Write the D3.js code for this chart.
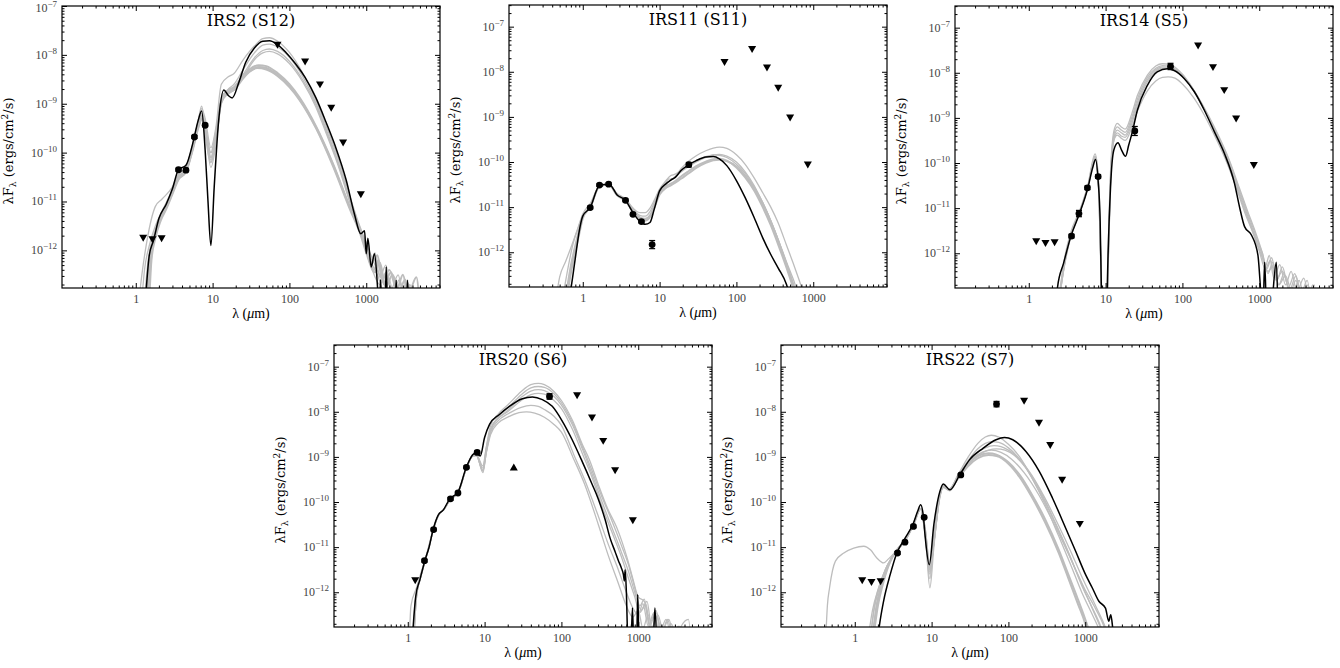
<!DOCTYPE html>
<meta charset="utf-8">
<style>
body { margin: 0; background: #fff; }
svg { font-family: 'DejaVu Serif', serif; }
.frame { fill: none; stroke: #000; stroke-width: 1.2px; }
.tick line { stroke: #000; stroke-width: 1px; }
.tick text { fill: #444; font-family: 'Liberation Serif', serif; font-size: 12px; }
.ylab { fill: #444; font-family: 'Liberation Serif', serif; font-size: 12px; }
.gray { fill: none; stroke: #bdbdbd; stroke-width: 1.3px; }
.gray.thick { stroke-width: 2px; }
.model { fill: none; stroke: #000; stroke-width: 1.5px; }
.title { font-size: 16px; fill: #000; }
.axlabel { font-family: 'Liberation Serif', serif; font-size: 14px; fill: #000; }
.aylabel { font-size: 13px; fill: #000; }
</style>
<svg id="chart" width="1340" height="668"></svg>
<script src="https://d3js.org/d3.v7.min.js"></script>
<script>
// all curves are [wavelength in micron, log10 of lambda F_lambda in erg/cm^2/s]

// ---- IRS2 (S12)
const irs2Model = [[1.3,-13.3],[1.5,-12.1],[1.7,-11.8],[2,-11.35],[2.5,-11.05],[3,-10.74],[3.6,-10.35],[4.5,-10.26],[5.5,-9.82],[6.5,-9.34],[7.2,-9.15],[8,-9.95],[8.7,-10.98],[9.5,-11.9],[10.5,-10.7],[12,-9.34],[14,-8.72],[16,-8.83],[18,-8.88],[22,-8.56],[27,-8.15],[35,-7.86],[45,-7.72],[55,-7.71],[70,-7.79],[90,-7.95],[120,-8.18],[160,-8.46],[220,-8.87],[300,-9.38],[400,-9.89],[550,-10.57],[700,-11.25],[850,-11.66],[950,-11.6],[1000,-12.07],[1050,-11.75],[1160,-12.34],[1280,-12.07],[1416,-12.85],[1480,-13.3],[1535,-12.6],[1600,-13.3],[1750,-13.3],[1820,-12.34],[1900,-13.3],[2350,-13.3],[2455,-12.61],[2560,-13.3],[3300,-13.3],[3444,-12.61],[3600,-13.3]];
const irs2Grays = [
  [[1.2,-13],[1.3,-12.4],[1.5,-11.9],[1.8,-11.5],[2.2,-11.2],[3,-10.75],[3.6,-10.45],[4.5,-10.3],[5.5,-9.85],[6.5,-9.35],[7.2,-9.1],[8,-9.3],[9.5,-9.9],[11,-9.5],[13,-8.6],[16,-8.45],[19,-8.38],[25,-8.1],[35,-7.82],[45,-7.67],[55,-7.65],[70,-7.72],[100,-7.95],[150,-8.38],[220,-8.92],[300,-9.45],[450,-10.2],[600,-10.85],[800,-11.45],[1000,-11.85],[1300,-12.3],[1600,-12.6],[2000,-12.9],[2500,-13.2]],
  [[1.3,-13],[1.45,-12.2],[1.7,-11.7],[2,-11.4],[2.5,-11.05],[3,-10.8],[3.6,-10.5],[4.5,-10.35],[5.5,-9.9],[6.5,-9.4],[7.2,-9.2],[8,-9.45],[9.5,-10.1],[11,-9.7],[13,-8.9],[16,-8.7],[19,-8.6],[25,-8.3],[35,-7.96],[45,-7.8],[55,-7.78],[70,-7.84],[100,-8.05],[150,-8.45],[220,-8.98],[300,-9.52],[450,-10.28],[600,-10.92],[800,-11.5],[1000,-11.95],[1200,-12.3],[1400,-12.5],[1700,-12.85],[2000,-12.6],[2300,-13.2]],
  [[1.1,-13],[1.2,-12.5],[1.4,-11.8],[1.8,-11.1],[2.2,-10.95],[3,-10.7],[3.6,-10.45],[4.5,-10.3],[5.5,-9.85],[6.5,-9.35],[7.2,-9.05],[8,-9.5],[9.5,-10.3],[11,-9.85],[13,-9.0],[16,-8.78],[19,-8.68],[25,-8.4],[35,-8.06],[45,-7.91],[55,-7.88],[70,-7.93],[100,-8.13],[150,-8.52],[220,-9.02],[300,-9.56],[450,-10.32],[600,-10.95],[800,-11.55],[1000,-12.0],[1200,-12.4],[1500,-12.7],[1800,-12.45],[2200,-12.9],[2700,-12.6],[3200,-13.2]],
  [[1.35,-13],[1.5,-12.1],[1.7,-11.75],[2,-11.45],[2.5,-11.1],[3,-10.82],[3.6,-10.55],[4.5,-10.4],[5.5,-9.95],[6.5,-9.45],[7.2,-9.25],[8,-9.55],[9.5,-10.15],[11,-9.75],[13,-8.95],[16,-8.8],[19,-8.72],[25,-8.45],[35,-8.1],[45,-7.96],[55,-7.93],[70,-7.98],[100,-8.18],[150,-8.56],[220,-9.06],[300,-9.6],[450,-10.35],[600,-10.98],[800,-11.55],[1000,-11.95],[1150,-12.2],[1300,-12.05],[1500,-12.55],[1800,-12.3],[2100,-12.8],[2600,-12.5],[3100,-13.0],[3700,-12.7],[4300,-13.3]],
  [[1.4,-13],[1.5,-12.3],[1.7,-11.8],[2,-11.4],[2.5,-11.1],[3,-10.8],[3.6,-10.5],[4.5,-10.35],[5.5,-9.9],[6.5,-9.45],[7.2,-9.25],[8,-9.5],[9.5,-10.0],[11,-9.6],[13,-8.9],[16,-8.72],[19,-8.66],[25,-8.42],[30,-8.3],[40,-8.21],[50,-8.23],[70,-8.37],[100,-8.6],[135,-8.87],[225,-9.48],[370,-10.23],[610,-11.1],[850,-11.6],[1000,-11.95],[1200,-12.25],[1400,-12.1],[1600,-12.6],[2000,-12.4],[2500,-12.8],[3000,-12.5],[3500,-12.9],[4500,-12.55],[5000,-13.3]],
  [[1.45,-13],[1.6,-12.1],[1.8,-11.7],[2.1,-11.35],[2.5,-11.12],[3,-10.82],[3.6,-10.52],[4.5,-10.38],[5.5,-9.92],[6.5,-9.48],[7.2,-9.3],[8,-9.6],[9.5,-10.2],[11,-9.75],[13,-8.95],[16,-8.76],[19,-8.7],[25,-8.46],[30,-8.34],[40,-8.25],[50,-8.27],[70,-8.41],[100,-8.64],[135,-8.9],[225,-9.5],[370,-10.25],[610,-11.12],[850,-11.65],[1000,-12.0],[1250,-12.4],[1450,-12.2],[1700,-12.7],[2100,-12.45],[2600,-12.9],[3200,-12.6],[3800,-13.3]],
  [[1.5,-13],[1.6,-12.2],[1.8,-11.75],[2.1,-11.4],[2.5,-11.15],[3,-10.85],[3.6,-10.55],[4.5,-10.4],[5.5,-9.95],[6.5,-9.5],[7.2,-9.32],[8,-9.55],[9.5,-10.1],[11,-9.7],[13,-8.95],[16,-8.78],[19,-8.72],[25,-8.48],[30,-8.35],[38,-8.27],[50,-8.3],[70,-8.43],[100,-8.66],[135,-8.92],[225,-9.52],[370,-10.28],[610,-11.15],[850,-11.7],[1000,-12.05],[1300,-12.45],[1500,-12.25],[1800,-12.75],[2200,-12.5],[2800,-12.95],[3400,-12.65],[4100,-13.3]]
];
const irs2Det = [[3.6,-10.35,0.03],[4.5,-10.36,0.03],[5.8,-9.68,0.03],[8.0,-9.44,0.03]];
const irs2Upper = [[1.25,-11.73],[1.65,-11.76],[2.17,-11.74],[70,-7.78],[160,-8.12],[250,-8.59],[350,-9.07],[500,-9.78],[850,-10.84]];

// ---- IRS11 (S11)
const irs11Model = [[0.6,-13.3],[0.7,-12.81],[0.8,-12.13],[0.9,-11.53],[1,-11.2],[1.25,-11.01],[1.65,-10.52],[2.2,-10.49],[2.8,-10.73],[3.6,-10.85],[4.5,-11.12],[5.5,-11.31],[6.5,-11.38],[7.5,-11.34],[8.5,-11.05],[10,-10.64],[12,-10.49],[14,-10.4],[16,-10.34],[19,-10.19],[24,-10.06],[30,-9.97],[40,-9.89],[50,-9.88],[60,-9.93],[75,-10.08],[100,-10.41],[130,-10.79],[170,-11.23],[220,-11.68],[280,-12.05],[350,-12.35],[450,-12.72],[550,-13.3]];
const irs11Grays = [
  [[0.45,-13],[0.5,-12.55],[0.6,-12.2],[0.7,-11.9],[0.85,-11.5],[1.0,-11.15],[1.25,-10.92],[1.65,-10.55],[2.2,-10.5],[2.8,-10.7],[3.6,-10.82],[4.5,-11.02],[5.5,-11.12],[6.5,-11.12],[7.5,-11.02],[8.5,-10.85],[10,-10.6],[12,-10.42],[14,-10.3],[16,-10.27],[19,-10.18],[24,-10.08],[30,-9.98],[40,-9.88],[50,-9.84],[60,-9.85],[75,-9.9],[100,-10.05],[130,-10.25],[170,-10.55],[220,-10.9],[280,-11.3],[350,-11.72],[450,-12.22],[550,-12.6],[650,-12.95],[750,-13.2]],
  [[0.55,-13],[0.65,-12.3],[0.75,-11.8],[0.9,-11.4],[1.0,-11.2],[1.25,-10.98],[1.65,-10.53],[2.2,-10.5],[2.8,-10.72],[3.6,-10.83],[4.5,-11.05],[5.5,-11.18],[6.5,-11.2],[7.5,-11.1],[8.5,-10.9],[10,-10.65],[12,-10.47],[14,-10.4],[16,-10.32],[19,-10.15],[24,-9.98],[30,-9.86],[40,-9.75],[50,-9.69],[60,-9.67],[75,-9.7],[100,-9.84],[130,-10.05],[170,-10.35],[220,-10.68],[280,-11.0],[350,-11.35],[450,-11.85],[550,-12.25],[650,-12.6],[800,-13.05]],
  [[0.6,-13],[0.7,-12.4],[0.8,-11.9],[0.9,-11.5],[1.0,-11.22],[1.25,-11.0],[1.65,-10.53],[2.2,-10.5],[2.8,-10.73],[3.6,-10.84],[4.5,-11.08],[5.5,-11.22],[6.5,-11.25],[7.5,-11.17],[8.5,-10.95],[10,-10.62],[12,-10.45],[13,-10.38],[14,-10.38],[16,-10.33],[19,-10.22],[24,-10.1],[30,-10.0],[40,-9.9],[50,-9.84],[60,-9.83],[75,-9.87],[100,-10.0],[130,-10.22],[170,-10.52],[220,-10.9],[280,-11.3],[350,-11.72],[450,-12.25],[550,-12.7],[650,-13.05]],
  [[0.6,-13],[0.7,-12.3],[0.8,-11.85],[0.9,-11.5],[1.0,-11.2],[1.25,-11.0],[1.65,-10.53],[2.2,-10.5],[2.8,-10.73],[3.6,-10.85],[4.5,-11.1],[5.5,-11.25],[6.5,-11.3],[7.5,-11.22],[8.5,-11.02],[10,-10.72],[12,-10.58],[14,-10.52],[16,-10.46],[19,-10.37],[24,-10.25],[30,-10.13],[40,-10.02],[50,-9.96],[60,-9.95],[75,-9.98],[100,-10.1],[130,-10.3],[170,-10.58],[220,-10.93],[280,-11.32],[350,-11.75],[450,-12.28],[550,-12.72],[650,-13.1]],
  [[0.62,-13],[0.72,-12.35],[0.82,-11.9],[0.92,-11.52],[1.0,-11.25],[1.25,-11.0],[1.65,-10.54],[2.2,-10.5],[2.8,-10.74],[3.6,-10.86],[4.5,-11.1],[5.5,-11.24],[6.5,-11.28],[7.5,-11.2],[8.5,-11.0],[10,-10.68],[12,-10.54],[14,-10.48],[16,-10.42],[19,-10.32],[24,-10.2],[30,-10.09],[40,-9.99],[50,-9.94],[60,-9.93],[75,-9.97],[100,-10.12],[130,-10.34],[170,-10.63],[220,-11.0],[280,-11.4],[350,-11.83],[450,-12.35],[550,-12.8],[650,-13.2]]
];
const irs11Det = [[1.25,-11.01,0.03],[1.65,-10.51,0.03],[2.17,-10.49,0.03],[3.6,-10.85,0.03],[4.5,-11.16,0.03],[5.8,-11.32,0.03],[8.0,-11.83,0.09],[24,-10.06,0.05]];
const irs11Upper = [[70,-7.77],[160,-7.48],[250,-7.89],[350,-8.34],[500,-9.0],[850,-10.04]];

// ---- IRS14 (S5)
const irs14Model = [[2.3,-13],[2.37,-12.75],[2.84,-12.22],[3.54,-11.62],[4.6,-11.11],[5.86,-10.56],[6.8,-10.1],[7.4,-9.92],[8.0,-10.4],[8.5,-11.3],[8.8,-12.74],[9.2,-13.5],[10.3,-13.5],[10.5,-12.8],[11.6,-10.53],[12.8,-9.71],[14.5,-9.55],[16.2,-9.72],[18.2,-9.85],[20,-9.6],[22.3,-9.31],[25.9,-8.83],[35,-8.28],[47,-7.98],[64,-7.91],[78,-7.95],[106,-8.13],[143,-8.42],[193,-8.83],[261,-9.31],[352,-9.79],[476,-10.45],[553,-10.97],[644,-11.41],[787,-11.59],[961,-12.04],[1064,-13.0],[1120,-13.3],[1175,-12.2],[1250,-13.3],[1400,-13.3],[1670,-12.2],[1750,-13.3]];
const irs14Grays = [
  [[2.5,-13],[2.8,-12.3],[3.5,-11.55],[4.6,-11.05],[5.86,-10.5],[7.3,-9.8],[8,-10.25],[8.7,-12.2],[9.1,-13.5],[10.4,-13.5],[10.8,-12],[11.6,-10.2],[12.8,-9.3],[14.2,-9.12],[16,-9.2],[18,-9.25],[22,-8.9],[26,-8.5],[35,-8.05],[45,-7.85],[55,-7.8],[70,-7.82],[90,-7.95],[120,-8.2],[160,-8.55],[220,-9.0],[300,-9.5],[400,-10.0],[550,-10.7],[700,-11.2],[900,-11.7],[1100,-12.1],[1300,-12.4],[1500,-12.3],[1800,-12.7],[2200,-12.5],[2700,-12.9],[3300,-12.6],[4000,-13.1],[5000,-12.7],[5500,-13.5]],
  [[2.45,-13],[2.8,-12.35],[3.5,-11.6],[4.6,-11.08],[5.86,-10.52],[7.3,-9.85],[8,-10.3],[8.7,-12.3],[9.1,-13.5],[10.4,-13.5],[10.8,-12.2],[11.6,-10.3],[12.8,-9.38],[14.2,-9.2],[16,-9.27],[18,-9.32],[22,-8.98],[26,-8.58],[35,-8.1],[45,-7.9],[55,-7.84],[70,-7.86],[90,-7.98],[120,-8.22],[160,-8.56],[220,-9.0],[300,-9.48],[400,-9.98],[550,-10.65],[700,-11.15],[900,-11.65],[1100,-12.0],[1250,-12.35],[1450,-12.1],[1700,-12.6],[2000,-12.3],[2400,-12.75],[2900,-12.45],[3500,-12.9],[4200,-12.6],[4800,-13.3]],
  [[2.5,-13],[2.85,-12.35],[3.5,-11.6],[4.6,-11.1],[5.86,-10.53],[7.3,-9.87],[8,-10.32],[8.7,-12.3],[9.1,-13.5],[10.4,-13.5],[10.8,-12.2],[11.6,-10.35],[12.8,-9.45],[14.2,-9.27],[16,-9.33],[18,-9.38],[22,-9.05],[26,-8.65],[35,-8.15],[45,-7.93],[55,-7.87],[70,-7.88],[90,-8.0],[120,-8.23],[160,-8.56],[220,-8.98],[300,-9.45],[400,-9.93],[550,-10.6],[700,-11.1],[900,-11.6],[1050,-11.95],[1200,-12.3],[1350,-12.05],[1550,-12.55],[1850,-12.25],[2200,-12.7],[2600,-12.4],[3100,-12.85],[3800,-12.55],[4500,-13.0],[5200,-12.7],[5700,-13.4]],
  [[2.5,-13],[2.85,-12.35],[3.5,-11.62],[4.6,-11.1],[5.86,-10.54],[7.3,-9.88],[8,-10.35],[8.7,-12.3],[9.1,-13.5],[10.4,-13.5],[10.8,-12.3],[11.6,-10.4],[12.8,-9.5],[14.2,-9.33],[16,-9.4],[18,-9.43],[22,-9.12],[26,-8.72],[35,-8.2],[45,-7.97],[55,-7.9],[70,-7.9],[90,-8.01],[120,-8.22],[160,-8.54],[220,-8.96],[300,-9.42],[400,-9.9],[550,-10.55],[700,-11.05],[900,-11.55],[1100,-12.0],[1300,-12.45],[1500,-12.2],[1800,-12.7],[2100,-12.45],[2500,-12.9],[3000,-12.6],[3600,-13.1],[4400,-12.75],[5200,-13.4]],
  [[2.5,-13],[2.9,-12.3],[3.5,-11.65],[4.6,-11.1],[5.86,-10.55],[7.3,-9.9],[8,-10.35],[8.7,-12.4],[9.1,-13.5],[10.4,-13.5],[10.8,-12.3],[11.6,-10.4],[12.8,-9.5],[14.2,-9.38],[16,-9.45],[18,-9.5],[22,-9.2],[26,-8.85],[35,-8.4],[45,-8.18],[55,-8.1],[65,-8.09],[80,-8.12],[100,-8.25],[140,-8.55],[190,-8.92],[260,-9.38],[350,-9.85],[480,-10.45],[650,-11.1],[850,-11.6],[1000,-11.95],[1200,-12.35],[1400,-12.15],[1650,-12.6],[2000,-12.4],[2500,-12.8],[3000,-12.5],[3600,-13.0],[4300,-12.7],[5000,-13.3]]
];
const irs14Det = [[3.6,-11.62,0.04],[4.5,-11.12,0.07],[5.8,-10.55,0.04],[8.0,-10.30,0.04],[24,-9.29,0.1],[70,-7.86,0.07]];
const irs14Upper = [[1.25,-11.72],[1.65,-11.76],[2.17,-11.74],[160,-7.38],[250,-7.86],[350,-8.37],[500,-9.0],[850,-10.03]];

// ---- IRS20 (S6)
const irs20Model = [[1.15,-13],[1.18,-12.72],[1.27,-12.09],[1.44,-11.72],[1.67,-11.30],[1.9,-10.99],[2.14,-10.61],[2.49,-10.29],[2.89,-10.18],[3.52,-9.93],[4.51,-9.78],[5.78,-9.23],[7.0,-8.95],[7.78,-8.9],[8.77,-8.98],[10,-8.57],[11.6,-8.28],[15.6,-8.06],[21,-7.88],[31,-7.71],[42,-7.67],[56.5,-7.73],[76,-7.88],[102,-8.2],[138,-8.62],[186,-9.1],[250,-9.6],[300,-9.92],[372,-10.4],[430,-10.8],[500,-11.1],[552,-11.3],[600,-11.45],[641,-11.61],[660,-11.75],[675,-11.5],[700,-11.98],[730,-13.0],[800,-13.3],[840,-12.35],[880,-13.3],[950,-13.3],[984,-12.05],[1030,-13.3],[1550,-13.3],[1648,-12.35],[1750,-13.3]];
const irs20Grays = [
  [[1.05,-13],[1.1,-12.3],[1.3,-11.9],[1.5,-11.55],[1.7,-11.25],[2.14,-10.62],[2.5,-10.3],[3,-10.15],[3.6,-9.92],[4.5,-9.78],[5.8,-9.25],[7,-8.95],[7.8,-8.92],[9.5,-9.3],[10.5,-8.8],[12,-8.3],[15,-8.05],[20,-7.85],[30,-7.55],[40,-7.4],[50,-7.37],[60,-7.4],[80,-7.55],[100,-7.75],[140,-8.2],[190,-8.75],[230,-9.05],[300,-9.6],[400,-10.15],[520,-10.55],[620,-10.9],[720,-11.25],[850,-11.7],[1000,-12.1],[1200,-12.2],[1400,-12.7],[1700,-12.4],[2000,-12.9],[2500,-12.6],[3000,-13.1],[3500,-12.8],[4500,-12.6],[5000,-13.5]],
  [[1.18,-13],[1.25,-12.2],[1.44,-11.72],[1.67,-11.3],[1.9,-10.99],[2.14,-10.62],[2.5,-10.3],[3,-10.15],[3.6,-9.93],[4.5,-9.78],[5.8,-9.24],[7,-8.96],[7.8,-8.93],[9.5,-9.35],[10.5,-8.9],[12,-8.4],[15,-8.12],[20,-7.92],[30,-7.62],[40,-7.47],[50,-7.44],[60,-7.46],[80,-7.6],[100,-7.8],[140,-8.25],[190,-8.8],[250,-9.3],[330,-9.85],[450,-10.4],[600,-10.95],[750,-11.4],[900,-11.9],[1050,-12.3],[1200,-12.15],[1400,-12.75],[1700,-12.45],[2000,-12.95],[2400,-12.6],[2900,-13.1],[3400,-12.75],[4000,-13.4]],
  [[1.2,-13],[1.28,-12.15],[1.44,-11.72],[1.67,-11.3],[1.9,-10.98],[2.14,-10.62],[2.5,-10.3],[3,-10.15],[3.6,-9.93],[4.5,-9.79],[5.8,-9.25],[7,-8.97],[7.8,-8.95],[9.5,-9.25],[10.5,-8.85],[12,-8.4],[15,-8.15],[20,-7.97],[30,-7.68],[40,-7.54],[50,-7.51],[60,-7.53],[80,-7.66],[100,-7.85],[140,-8.3],[190,-8.85],[250,-9.38],[330,-9.95],[450,-10.55],[600,-11.1],[750,-11.55],[900,-12.0],[1100,-12.4],[1300,-12.2],[1500,-12.8],[1800,-12.5],[2200,-13.0],[2700,-12.7],[3300,-13.2],[4000,-12.8],[4600,-13.4]],
  [[1.2,-13],[1.3,-12.1],[1.5,-11.6],[1.7,-11.28],[1.9,-10.98],[2.14,-10.62],[2.5,-10.3],[3,-10.15],[3.6,-9.94],[4.5,-9.8],[5.8,-9.25],[7,-8.98],[7.8,-8.95],[9.5,-9.2],[10.5,-8.8],[12,-8.38],[15,-8.15],[20,-8.0],[30,-7.75],[40,-7.62],[50,-7.59],[60,-7.61],[80,-7.75],[100,-7.93],[140,-8.4],[190,-8.95],[250,-9.45],[330,-10.05],[450,-10.65],[600,-11.2],[750,-11.7],[900,-12.1],[1050,-12.45],[1250,-12.25],[1450,-12.85],[1750,-12.55],[2100,-13.0],[2600,-12.75],[3200,-13.2],[3900,-12.85],[4400,-13.4]],
  [[1.2,-13],[1.3,-12.1],[1.5,-11.62],[1.7,-11.28],[1.9,-10.98],[2.14,-10.62],[2.5,-10.3],[3,-10.15],[3.6,-9.94],[4.5,-9.8],[5.8,-9.25],[7,-8.98],[7.8,-8.97],[9.5,-9.32],[10.5,-8.9],[12,-8.45],[15,-8.2],[20,-8.05],[30,-7.9],[40,-7.86],[50,-7.88],[60,-7.95],[80,-8.1],[100,-8.3],[145,-8.95],[200,-9.5],[300,-10.3],[410,-10.95],[550,-11.5],[700,-12.0],[850,-12.35],[1000,-12.5],[1150,-12.25],[1350,-12.75],[1600,-12.45],[1900,-12.9],[2300,-12.6],[2800,-13.1],[3300,-12.75],[3800,-13.4]],
  [[1.2,-13],[1.3,-12.1],[1.5,-11.62],[1.7,-11.28],[1.9,-10.98],[2.14,-10.62],[2.5,-10.3],[3,-10.15],[3.6,-9.94],[4.5,-9.8],[5.8,-9.25],[7,-8.98],[7.8,-8.97],[9.5,-9.3],[10.5,-8.92],[12,-8.5],[15,-8.25],[20,-8.12],[28,-8.02],[35,-8.0],[45,-8.03],[60,-8.12],[80,-8.28],[100,-8.45],[145,-9.05],[200,-9.6],[305,-10.52],[410,-11.2],[550,-11.8],[700,-12.3],[850,-12.55],[1000,-12.4],[1150,-12.8],[1350,-12.5],[1600,-13.0],[1900,-12.7],[2300,-13.4]]
];
const irs20Det = [[1.65,-11.30,0.03],[2.17,-10.61,0.03],[3.6,-9.93,0.03],[4.5,-9.80,0.03],[5.8,-9.23,0.03],[8.0,-8.90,0.03],[70,-7.66,0.06]];
const irs20Upper = [[1.25,-11.72],[160,-7.62],[250,-8.11],[350,-8.63],[500,-9.28],[850,-10.39]];
const irs20Lower = [[24,-9.25]];

// ---- IRS22 (S7)
const irs22Model = [[2.0,-13],[2.08,-12.77],[2.37,-12.2],[2.89,-11.61],[3.53,-11.13],[4.52,-10.80],[5.79,-10.47],[6.6,-10.2],[7.2,-10.06],[7.8,-10.3],[8.2,-10.72],[9.33,-11.39],[10.7,-10.5],[12.8,-9.77],[14.2,-9.60],[17.3,-9.73],[23.2,-9.40],[31.3,-9.06],[46.6,-8.81],[69,-8.62],[89,-8.57],[114,-8.62],[169,-8.88],[252,-9.32],[374,-9.91],[557,-10.58],[750,-11.09],[1010,-11.61],[1233,-11.9],[1504,-12.2],[1833,-12.35],[2024,-12.64],[2150,-12.5],[2300,-12.85],[2467,-13.2]];
const irs22Grays = [
  [[0.42,-13],[0.44,-12.3],[0.47,-11.9],[0.56,-11.31],[0.72,-11.13],[0.97,-11.02],[1.31,-10.98],[1.6,-11.06],[1.94,-11.24],[2.37,-11.35],[2.75,-11.26],[3.4,-11.1],[4.5,-10.85],[5.8,-10.5],[7.2,-10.15],[8.2,-10.7],[9.5,-11.7],[10.7,-10.8],[12.8,-9.85],[14.2,-9.68],[17.3,-9.75],[23,-9.4],[31,-9.1],[45,-8.9],[60,-8.85],[80,-8.9],[110,-9.05],[160,-9.35],[250,-9.85],[370,-10.4],[550,-11.0],[750,-11.5],[1000,-11.95],[1300,-12.3],[1600,-12.6],[2000,-13]],
  [[1.5,-13],[1.7,-12.4],[2,-11.95],[2.5,-11.5],[3,-11.25],[3.6,-11.05],[4.5,-10.85],[5.8,-10.5],[7.2,-10.15],[8.2,-10.6],[9.5,-11.9],[10.7,-11.0],[12.8,-9.85],[14.2,-9.65],[17,-9.72],[22,-9.4],[30,-9.0],[40,-8.7],[50,-8.56],[60,-8.52],[75,-8.56],[100,-8.72],[140,-9.0],[200,-9.45],[300,-10.05],[450,-10.75],[650,-11.4],[900,-12.0],[1200,-12.45],[1500,-12.8],[1800,-13.1]],
  [[1.6,-13],[1.8,-12.3],[2.1,-11.85],[2.5,-11.5],[3,-11.25],[3.6,-11.05],[4.5,-10.85],[5.8,-10.5],[7.2,-10.15],[8.2,-10.6],[9.5,-11.5],[10.7,-10.85],[12.8,-9.85],[14.2,-9.65],[17,-9.72],[22,-9.42],[30,-9.08],[40,-8.82],[50,-8.7],[60,-8.66],[75,-8.68],[100,-8.8],[140,-9.05],[200,-9.45],[300,-10.0],[450,-10.65],[650,-11.25],[900,-11.85],[1200,-12.3],[1500,-12.65],[1800,-13.0]],
  [[1.6,-13],[1.8,-12.35],[2.1,-11.9],[2.5,-11.5],[3,-11.25],[3.6,-11.06],[4.5,-10.86],[5.8,-10.5],[7.2,-10.15],[8.2,-10.65],[9.5,-11.6],[10.7,-10.9],[12.8,-9.87],[14.2,-9.66],[17,-9.72],[22,-9.45],[30,-9.12],[40,-8.9],[50,-8.8],[65,-8.75],[80,-8.77],[100,-8.85],[140,-9.05],[200,-9.4],[300,-9.92],[450,-10.52],[650,-11.1],[900,-11.65],[1200,-12.1],[1500,-12.45],[1800,-12.75],[2100,-13.1]],
  [[1.7,-13],[1.9,-12.3],[2.2,-11.85],[2.6,-11.45],[3,-11.25],[3.6,-11.06],[4.5,-10.86],[5.8,-10.5],[7.2,-10.15],[8.2,-10.65],[9.5,-11.55],[10.7,-10.9],[12.8,-9.87],[14.2,-9.66],[17,-9.72],[22,-9.47],[30,-9.17],[40,-8.97],[55,-8.85],[70,-8.82],[90,-8.85],[120,-8.97],[170,-9.25],[250,-9.7],[370,-10.3],[550,-10.95],[750,-11.5],[1000,-12.0],[1300,-12.45],[1600,-12.8],[1900,-13.1]],
  [[1.7,-13],[1.9,-12.4],[2.2,-11.9],[2.6,-11.5],[3,-11.25],[3.6,-11.05],[4.5,-10.85],[5.8,-10.5],[7.2,-10.15],[8.2,-10.6],[9.5,-11.5],[10.7,-10.85],[12.8,-9.85],[14.2,-9.65],[17,-9.72],[22,-9.45],[30,-9.15],[40,-8.98],[55,-8.92],[70,-8.95],[100,-9.12],[140,-9.4],[200,-9.82],[300,-10.38],[450,-11.05],[600,-11.6],[800,-12.15],[1000,-12.6],[1200,-13.0]],
  [[1.75,-13],[2,-12.3],[2.3,-11.85],[2.7,-11.45],[3.1,-11.22],[3.6,-11.05],[4.5,-10.85],[5.8,-10.5],[7.2,-10.15],[8.2,-10.62],[9.5,-11.45],[10.7,-10.85],[12.8,-9.86],[14.2,-9.66],[17,-9.73],[22,-9.48],[30,-9.2],[40,-9.03],[55,-8.96],[70,-8.98],[100,-9.15],[140,-9.45],[200,-9.88],[300,-10.45],[450,-11.12],[600,-11.68],[800,-12.25],[1000,-12.7],[1150,-13.1]]
];
const irs22Det = [[3.6,-11.13,0.03],[4.5,-10.89,0.03],[5.8,-10.54,0.03],[8.0,-10.34,0.03],[24,-9.40,0.03],[70,-7.83,0.06]];
const irs22Upper = [[1.25,-11.72],[1.65,-11.76],[2.17,-11.74],[160,-7.74],[250,-8.23],[350,-8.72],[500,-9.49],[850,-10.47]];

const titles = ['IRS2 (S12)', 'IRS11 (S11)', 'IRS14 (S5)', 'IRS20 (S6)', 'IRS22 (S7)'];

// layout
const PW = 378, PH = 282;
const xDomain = [0.1096, 9120];
const panels = [
  {left: 62,  top: 6,   yTop: -7,    model: irs2Model,  grays: irs2Grays,  det: irs2Det,  upper: irs2Upper,  lower: [], thick: [4, 5, 6]},
  {left: 509, top: 5,   yTop: -6.52, model: irs11Model, grays: irs11Grays, det: irs11Det, upper: irs11Upper, lower: [], thick: [3, 4]},
  {left: 955, top: 6,   yTop: -6.52, model: irs14Model, grays: irs14Grays, det: irs14Det, upper: irs14Upper, lower: [], thick: []},
  {left: 334, top: 345, yTop: -6.52, model: irs20Model, grays: irs20Grays, det: irs20Det, upper: irs20Upper, lower: irs20Lower, thick: []},
  {left: 781, top: 345, yTop: -6.52, model: irs22Model, grays: irs22Grays, det: irs22Det, upper: irs22Upper, lower: [], thick: [5, 6]}
];
const yBottom = -12.77;

const svg = d3.select('#chart');

function isMajor(v) {
  var l = Math.log10(v);
  return Math.abs(l - Math.round(l)) < 1e-6;
}

panels.forEach(function(p, i) {
  var g = svg.append('g').attr('transform', 'translate(' + p.left + ',' + p.top + ')');
  var x = d3.scaleLog().domain(xDomain).range([0, PW]);
  var y = d3.scaleLog().domain([Math.pow(10, yBottom), Math.pow(10, p.yTop)]).range([PH, 0]);
  var fy = function(v) { return y(Math.pow(10, v)); };

  g.append('clipPath').attr('id', 'clip' + i)
    .append('rect').attr('width', PW).attr('height', PH);

  var line = d3.line()
      .x(function(d) { return x(d[0]); })
      .y(function(d) { return fy(d[1]); })
      .curve(d3.curveMonotoneX);

  var curves = g.append('g').attr('clip-path', 'url(#clip' + i + ')');
  curves.selectAll('path.gray')
    .data(p.grays)
    .enter().append('path')
      .attr('class', function(d, k) { return p.thick.indexOf(k) >= 0 ? 'gray thick' : 'gray'; })
      .attr('d', line);
  curves.append('path').attr('class', 'model').attr('d', line(p.model));

  // detections with error bars
  var det = curves.append('g').selectAll('g').data(p.det).enter().append('g');
  det.append('line')
    .attr('x1', function(d) { return x(d[0]); }).attr('x2', function(d) { return x(d[0]); })
    .attr('y1', function(d) { return fy(d[1] - d[2]); }).attr('y2', function(d) { return fy(d[1] + d[2]); })
    .attr('stroke', '#000').attr('stroke-width', 1.2);
  [1, -1].forEach(function(s) {
    det.append('line')
      .attr('x1', function(d) { return x(d[0]) - 3; }).attr('x2', function(d) { return x(d[0]) + 3; })
      .attr('y1', function(d) { return fy(d[1] + s * d[2]); }).attr('y2', function(d) { return fy(d[1] + s * d[2]); })
      .attr('stroke', '#000').attr('stroke-width', 1.2);
  });
  det.append('circle')
    .attr('cx', function(d) { return x(d[0]); })
    .attr('cy', function(d) { return fy(d[1]); })
    .attr('r', 3.4).attr('fill', '#000');

  var tri = d3.symbol().type(d3.symbolTriangle).size(28);
  curves.append('g').selectAll('path').data(p.upper).enter().append('path')
    .attr('d', tri)
    .attr('transform', function(d) { return 'translate(' + x(d[0]) + ',' + fy(d[1]) + ') rotate(180)'; });
  curves.append('g').selectAll('path').data(p.lower).enter().append('path')
    .attr('d', tri)
    .attr('transform', function(d) { return 'translate(' + x(d[0]) + ',' + fy(d[1]) + ')'; });

  // ticks on all four sides, pointing in
  var xt = x.ticks(), yt = y.ticks();
  var xMaj = xt.filter(isMajor), xMin = xt.filter(function(v) { return !isMajor(v); });
  var yMaj = yt.filter(isMajor), yMin = yt.filter(function(v) { return !isMajor(v); });

  function axisGroup(axis, tx, ty) {
    var a = g.append('g').attr('transform', 'translate(' + tx + ',' + ty + ')').call(axis);
    a.select('.domain').remove();
    return a;
  }
  axisGroup(d3.axisBottom(x).tickValues(xMin).tickSize(-2.5).tickFormat(''), 0, PH);
  axisGroup(d3.axisBottom(x).tickValues(xMaj).tickSize(-5).tickPadding(6)
    .tickFormat(function(v) { return v >= 1 ? d3.format('d')(v) : ''; }), 0, PH);
  axisGroup(d3.axisTop(x).tickValues(xMin).tickSize(-2.5).tickFormat(''), 0, 0);
  axisGroup(d3.axisTop(x).tickValues(xMaj).tickSize(-5).tickFormat(''), 0, 0);
  axisGroup(d3.axisLeft(y).tickValues(yMin).tickSize(-2.5).tickFormat(''), 0, 0);
  axisGroup(d3.axisLeft(y).tickValues(yMaj).tickSize(-5).tickFormat(''), 0, 0);
  axisGroup(d3.axisRight(y).tickValues(yMin).tickSize(-2.5).tickFormat(''), PW, 0);
  axisGroup(d3.axisRight(y).tickValues(yMaj).tickSize(-5).tickFormat(''), PW, 0);

  var ylab = g.append('g').selectAll('text').data(yMaj).enter().append('text')
    .attr('class', 'ylab')
    .attr('text-anchor', 'end')
    .attr('x', -5)
    .attr('y', function(v) { var t = y(v); return (t < 4 ? 6 : t + 4); });
  ylab.append('tspan').text('10');
  ylab.append('tspan').attr('dy', -5).attr('font-size', '9px')
    .text(function(v) { return '\u2212' + Math.round(-Math.log10(v)); });

  g.append('rect').attr('class', 'frame').attr('width', PW).attr('height', PH);

  g.append('text').attr('class', 'title')
    .attr('x', PW / 2).attr('y', 20).attr('text-anchor', 'middle')
    .text(titles[i]);

  var xl = g.append('text').attr('class', 'axlabel')
    .attr('x', PW / 2).attr('y', PH + 30).attr('text-anchor', 'middle');
  xl.append('tspan').text('\u03bb (');
  xl.append('tspan').attr('font-style', 'italic').text('\u03bc');
  xl.append('tspan').text('m)');

  var yl = g.append('text').attr('class', 'aylabel')
    .attr('transform', 'translate(-49,' + (PH / 2 + 4) + ') rotate(-90)')
    .attr('text-anchor', 'middle');
  yl.append('tspan').text('\u03bbF');
  yl.append('tspan').attr('dy', 3).attr('font-size', '9px').text('\u03bb');
  yl.append('tspan').attr('dy', -3).text(' (ergs/cm');
  yl.append('tspan').attr('dy', -5).attr('font-size', '9px').text('2');
  yl.append('tspan').attr('dy', 5).text('/s)');
});
</script>
